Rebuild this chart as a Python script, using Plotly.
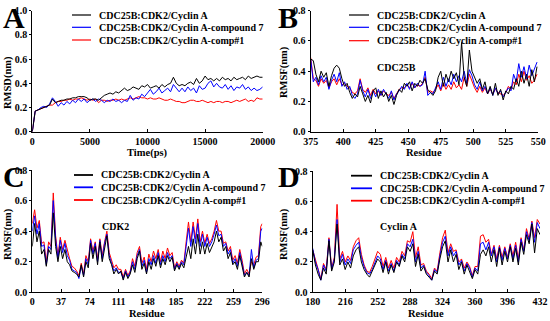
import plotly.graph_objects as go

W, H = 550, 321

# ---------------- Data ----------------
# Panel A: RMSD vs time (ps)
time_ps = list(range(0, 20001, 250))
rmsd_apo = [0.00, 0.17, 0.18, 0.19, 0.20, 0.21, 0.22, 0.27, 0.24, 0.25,
            0.26, 0.26, 0.27, 0.27, 0.28, 0.28, 0.29, 0.29, 0.29, 0.28,
            0.26, 0.27, 0.27, 0.26, 0.28, 0.30, 0.31, 0.32, 0.31, 0.33,
            0.32, 0.34, 0.36, 0.34, 0.35, 0.37, 0.36, 0.35, 0.38, 0.37,
            0.39, 0.36, 0.37, 0.38, 0.36, 0.39, 0.37, 0.39, 0.40, 0.45,
            0.40, 0.38, 0.39, 0.38, 0.40, 0.41, 0.39, 0.44, 0.40, 0.42,
            0.46, 0.43, 0.44, 0.42, 0.44, 0.42, 0.45, 0.43, 0.44, 0.42,
            0.45, 0.43, 0.44, 0.45, 0.43, 0.46, 0.44, 0.45, 0.46, 0.45,
            0.45]
rmsd_cpd7 = [0.00, 0.17, 0.18, 0.20, 0.21, 0.20, 0.23, 0.28, 0.25, 0.21,
             0.24, 0.22, 0.25, 0.23, 0.26, 0.24, 0.27, 0.25, 0.27, 0.24,
             0.26, 0.27, 0.25, 0.27, 0.26, 0.24, 0.26, 0.25, 0.27, 0.25,
             0.26, 0.24, 0.26, 0.25, 0.30, 0.26, 0.28, 0.27, 0.31, 0.29,
             0.32, 0.35, 0.31, 0.33, 0.36, 0.32, 0.34, 0.36, 0.33, 0.39,
             0.36, 0.33, 0.36, 0.33, 0.37, 0.34, 0.36, 0.32, 0.38, 0.35,
             0.36, 0.40, 0.42, 0.37, 0.40, 0.37, 0.36, 0.39, 0.35, 0.38,
             0.34, 0.37, 0.36, 0.39, 0.35, 0.37, 0.34, 0.36, 0.34, 0.35,
             0.37]
rmsd_comp1 = [0.00, 0.17, 0.18, 0.19, 0.20, 0.21, 0.22, 0.22, 0.24, 0.25,
              0.25, 0.26, 0.26, 0.27, 0.26, 0.27, 0.27, 0.28, 0.27, 0.26,
              0.27, 0.26, 0.27, 0.24, 0.26, 0.26, 0.25, 0.26, 0.26, 0.27,
              0.26, 0.27, 0.26, 0.27, 0.28, 0.27, 0.28, 0.29, 0.28, 0.28,
              0.27, 0.28, 0.27, 0.27, 0.28, 0.27, 0.26, 0.26, 0.27, 0.26,
              0.25, 0.25, 0.24, 0.24, 0.25, 0.26, 0.26, 0.25, 0.25, 0.26,
              0.25, 0.24, 0.25, 0.24, 0.25, 0.25, 0.24, 0.25, 0.25, 0.24,
              0.25, 0.26, 0.25, 0.26, 0.27, 0.25, 0.26, 0.25, 0.28, 0.27,
              0.27]

# Panel B: RMSF of CDC25B residues
res_b = list(range(375, 550, 2))
rmsf_b_apo = [0.48, 0.47, 0.38, 0.33, 0.40, 0.36, 0.39, 0.30, 0.37, 0.42,
              0.44, 0.42, 0.35, 0.30, 0.32, 0.26, 0.22, 0.25, 0.23, 0.30,
              0.25, 0.20, 0.24, 0.19, 0.27, 0.29, 0.22, 0.27, 0.23, 0.26,
              0.20, 0.24, 0.18, 0.24, 0.28, 0.26, 0.32, 0.30, 0.33, 0.27,
              0.32, 0.30, 0.34, 0.32, 0.35, 0.28, 0.26, 0.24, 0.27, 0.36,
              0.40, 0.30, 0.38, 0.33, 0.40, 0.35, 0.39, 0.31, 0.59, 0.36,
              0.30, 0.54, 0.40, 0.36, 0.32, 0.35, 0.28, 0.33, 0.25, 0.30,
              0.24, 0.32, 0.24, 0.28, 0.21, 0.27, 0.25, 0.30, 0.28, 0.35,
              0.30, 0.40, 0.32, 0.38, 0.30, 0.41, 0.33, 0.43]
rmsf_b_cpd7 = [0.48, 0.33, 0.36, 0.31, 0.37, 0.33, 0.36, 0.28, 0.34, 0.38,
               0.33, 0.39, 0.30, 0.33, 0.28, 0.30, 0.24, 0.22, 0.25, 0.34,
               0.27, 0.23, 0.28, 0.22, 0.27, 0.23, 0.28, 0.24, 0.28, 0.25,
               0.22, 0.27, 0.21, 0.25, 0.27, 0.30, 0.28, 0.32, 0.28, 0.33,
               0.29, 0.32, 0.30, 0.31, 0.40, 0.24, 0.26, 0.25, 0.29, 0.33,
               0.28, 0.36, 0.30, 0.35, 0.31, 0.38, 0.33, 0.37, 0.33, 0.40,
               0.32, 0.41, 0.37, 0.31, 0.28, 0.33, 0.27, 0.30, 0.25, 0.29,
               0.24, 0.29, 0.25, 0.27, 0.23, 0.26, 0.29, 0.27, 0.38, 0.33,
               0.45, 0.36, 0.43, 0.35, 0.44, 0.37, 0.42, 0.46]
rmsf_b_comp1 = [0.49, 0.35, 0.34, 0.30, 0.35, 0.32, 0.34, 0.29, 0.33, 0.35,
                0.31, 0.35, 0.31, 0.32, 0.30, 0.29, 0.26, 0.25, 0.27, 0.35,
                0.28, 0.26, 0.29, 0.24, 0.28, 0.25, 0.27, 0.24, 0.27, 0.25,
                0.24, 0.26, 0.22, 0.25, 0.28, 0.29, 0.29, 0.31, 0.29, 0.32,
                0.29, 0.31, 0.30, 0.32, 0.36, 0.26, 0.27, 0.26, 0.28, 0.31,
                0.27, 0.32, 0.28, 0.31, 0.28, 0.33, 0.29, 0.31, 0.28, 0.36,
                0.30, 0.38, 0.33, 0.29, 0.26, 0.30, 0.26, 0.29, 0.25, 0.28,
                0.25, 0.28, 0.26, 0.25, 0.24, 0.26, 0.30, 0.28, 0.33, 0.31,
                0.38, 0.33, 0.40, 0.34, 0.37, 0.32, 0.34, 0.38]

# Panel C: RMSF of CDK2 residues
res_c = list(range(0, 295, 3)) + [296]
rmsf_c_apo = [0.30, 0.45, 0.33, 0.40, 0.25, 0.28, 0.17, 0.28, 0.25, 0.52,
              0.30, 0.20, 0.30, 0.22, 0.28, 0.20, 0.18, 0.14, 0.13, 0.12,
              0.10, 0.18, 0.10, 0.20, 0.16, 0.32, 0.22, 0.30, 0.18, 0.33,
              0.20, 0.30, 0.37, 0.22, 0.18, 0.12, 0.15, 0.12, 0.14, 0.08,
              0.13, 0.09, 0.12, 0.18, 0.13, 0.22, 0.27, 0.15, 0.19, 0.12,
              0.20, 0.15, 0.22, 0.17, 0.24, 0.16, 0.22, 0.18, 0.24, 0.20,
              0.23, 0.14, 0.18, 0.15, 0.19, 0.16, 0.23, 0.30, 0.22, 0.35,
              0.25, 0.38, 0.25, 0.33, 0.25, 0.32, 0.26, 0.30, 0.33, 0.40,
              0.33, 0.36, 0.27, 0.30, 0.22, 0.26, 0.18, 0.20, 0.15, 0.24,
              0.17, 0.10, 0.13, 0.10, 0.22, 0.15, 0.20, 0.20, 0.33, 0.30]
rmsf_c_cpd7 = [0.40, 0.50, 0.38, 0.45, 0.30, 0.31, 0.18, 0.30, 0.28, 0.60,
               0.35, 0.22, 0.34, 0.26, 0.32, 0.24, 0.21, 0.15, 0.14, 0.13,
               0.09, 0.17, 0.11, 0.22, 0.18, 0.34, 0.25, 0.32, 0.20, 0.34,
               0.22, 0.32, 0.38, 0.24, 0.19, 0.14, 0.16, 0.13, 0.13, 0.09,
               0.14, 0.10, 0.13, 0.20, 0.15, 0.24, 0.28, 0.17, 0.21, 0.13,
               0.22, 0.18, 0.24, 0.19, 0.26, 0.18, 0.24, 0.20, 0.26, 0.22,
               0.24, 0.15, 0.19, 0.16, 0.20, 0.18, 0.30, 0.42, 0.30, 0.43,
               0.32, 0.45, 0.30, 0.38, 0.30, 0.36, 0.30, 0.33, 0.38, 0.44,
               0.37, 0.38, 0.30, 0.32, 0.25, 0.28, 0.19, 0.22, 0.17, 0.26,
               0.19, 0.11, 0.13, 0.11, 0.28, 0.16, 0.21, 0.22, 0.40, 0.42]
rmsf_c_comp1 = [0.45, 0.54, 0.42, 0.47, 0.32, 0.33, 0.20, 0.33, 0.30, 0.65,
                0.37, 0.24, 0.36, 0.28, 0.34, 0.27, 0.22, 0.17, 0.16, 0.14,
                0.11, 0.19, 0.12, 0.24, 0.20, 0.35, 0.27, 0.33, 0.22, 0.35,
                0.24, 0.33, 0.40, 0.26, 0.21, 0.16, 0.18, 0.15, 0.15, 0.10,
                0.15, 0.11, 0.14, 0.22, 0.17, 0.26, 0.30, 0.19, 0.23, 0.15,
                0.25, 0.20, 0.27, 0.22, 0.28, 0.20, 0.27, 0.22, 0.29, 0.24,
                0.26, 0.16, 0.20, 0.17, 0.21, 0.19, 0.33, 0.46, 0.33, 0.46,
                0.35, 0.48, 0.33, 0.40, 0.32, 0.38, 0.32, 0.35, 0.40, 0.47,
                0.40, 0.40, 0.32, 0.33, 0.27, 0.30, 0.21, 0.24, 0.19, 0.28,
                0.21, 0.12, 0.15, 0.12, 0.20, 0.18, 0.23, 0.24, 0.43, 0.45]

# Panel D: RMSF of Cyclin A residues
res_d = list(range(180, 433, 3))
rmsf_d_apo = [0.28, 0.18, 0.12, 0.08, 0.16, 0.12, 0.34, 0.14, 0.20, 0.45,
              0.18, 0.22, 0.15, 0.20, 0.16, 0.24, 0.28, 0.30, 0.20, 0.15,
              0.12, 0.10, 0.14, 0.18, 0.22, 0.20, 0.13, 0.20, 0.12, 0.18,
              0.13, 0.20, 0.17, 0.24, 0.20, 0.30, 0.27, 0.32, 0.17, 0.25,
              0.14, 0.17, 0.12, 0.10, 0.08, 0.14, 0.12, 0.22, 0.30, 0.34,
              0.20, 0.28, 0.20, 0.25, 0.15, 0.20, 0.12, 0.18, 0.14, 0.09,
              0.15, 0.12, 0.25, 0.28, 0.24, 0.30, 0.20, 0.28, 0.17, 0.29,
              0.18, 0.27, 0.20, 0.30, 0.20, 0.29, 0.18, 0.33, 0.25, 0.38,
              0.32, 0.45, 0.26, 0.42, 0.38]
rmsf_d_cpd7 = [0.29, 0.20, 0.15, 0.08, 0.18, 0.14, 0.35, 0.15, 0.22, 0.48,
               0.20, 0.25, 0.18, 0.22, 0.19, 0.28, 0.31, 0.33, 0.23, 0.17,
               0.13, 0.12, 0.15, 0.20, 0.24, 0.22, 0.15, 0.21, 0.14, 0.19,
               0.14, 0.21, 0.18, 0.25, 0.22, 0.32, 0.30, 0.35, 0.20, 0.27,
               0.16, 0.18, 0.13, 0.11, 0.08, 0.15, 0.13, 0.24, 0.33, 0.37,
               0.24, 0.30, 0.24, 0.27, 0.18, 0.21, 0.14, 0.19, 0.16, 0.10,
               0.16, 0.14, 0.32, 0.33, 0.28, 0.33, 0.24, 0.30, 0.20, 0.30,
               0.21, 0.29, 0.22, 0.31, 0.22, 0.31, 0.20, 0.35, 0.27, 0.40,
               0.34, 0.46, 0.33, 0.46, 0.42]
rmsf_d_comp1 = [0.28, 0.21, 0.16, 0.09, 0.19, 0.15, 0.36, 0.16, 0.23, 0.58,
                0.22, 0.27, 0.20, 0.24, 0.21, 0.30, 0.34, 0.36, 0.25, 0.18,
                0.14, 0.13, 0.17, 0.22, 0.27, 0.25, 0.17, 0.23, 0.16, 0.21,
                0.16, 0.23, 0.20, 0.27, 0.24, 0.34, 0.33, 0.40, 0.23, 0.30,
                0.18, 0.19, 0.14, 0.12, 0.09, 0.16, 0.14, 0.26, 0.36, 0.41,
                0.26, 0.32, 0.27, 0.28, 0.20, 0.22, 0.16, 0.20, 0.17, 0.11,
                0.17, 0.17, 0.37, 0.38, 0.33, 0.35, 0.25, 0.31, 0.22, 0.31,
                0.23, 0.30, 0.23, 0.32, 0.24, 0.33, 0.22, 0.36, 0.28, 0.42,
                0.35, 0.47, 0.36, 0.48, 0.45]

series_names = ["CDC25B:CDK2/Cyclin A",
                "CDC25B:CDK2/Cyclin A-compound 7",
                "CDC25B:CDK2/Cyclin A-comp#1"]
series_colors = ["#000000", "#0000FF", "#FF0000"]

ticks_a_x = [0, 5000, 10000, 15000, 20000]
ticks_b_x = [375, 400, 425, 450, 475, 500, 525, 550]
ticks_c_x = [0, 37, 74, 111, 148, 185, 222, 259, 296]
ticks_d_x = [180, 216, 252, 288, 324, 360, 396, 432]
ticks_rmsd_y = [0.0, 0.2, 0.4, 0.6, 0.8, 1.0]
ticks_rmsf_y = [0.0, 0.2, 0.4, 0.6, 0.8]

# ---------------- Figure ----------------
FONT = "Liberation Serif, Times New Roman, serif"


def X(px):
    return px / W


def Y(py):
    return 1 - py / H


panels = [
    dict(xp=(32.3, 262.7), yp=(10.7, 131.7), xr=[0, 20000], yr=[0, 1.0],
         yt=ticks_rmsd_y, xt=ticks_a_x,
         x=time_ps, ys=[rmsd_apo, rmsd_cpd7, rmsd_comp1]),
    dict(xp=(310.7, 538.3), yp=(10.7, 131.7), xr=[375, 550], yr=[0, 0.8],
         yt=ticks_rmsf_y, xt=ticks_b_x,
         x=res_b, ys=[rmsf_b_apo, rmsf_b_cpd7, rmsf_b_comp1]),
    dict(xp=(32.3, 262.3), yp=(170, 292.3), xr=[0, 296], yr=[0, 0.8],
         yt=ticks_rmsf_y, xt=ticks_c_x,
         x=res_c, ys=[rmsf_c_apo, rmsf_c_cpd7, rmsf_c_comp1]),
    dict(xp=(312.7, 540), yp=(171, 292.3), xr=[180, 432], yr=[0, 0.8],
         yt=ticks_rmsf_y, xt=ticks_d_x,
         x=res_d, ys=[rmsf_d_apo, rmsf_d_cpd7, rmsf_d_comp1]),
]

fig = go.Figure()
layout = dict(width=W, height=H, margin=dict(l=0, r=0, t=0, b=0, autoexpand=False),
              paper_bgcolor="white", plot_bgcolor="white",
              showlegend=False, font=dict(family=FONT, color="black"))

tickfont = dict(family=FONT, size=10, color="black", weight="bold")

for i, p in enumerate(panels):
    n = "" if i == 0 else str(i + 1)
    xa, ya = "x" + n, "y" + n
    for k in [2, 1, 0]:
        fig.add_trace(go.Scatter(x=p["x"], y=p["ys"][k], mode="lines",
                                 line=dict(color=series_colors[k], width=1),
                                 name=series_names[k], xaxis=xa, yaxis=ya,
                                 showlegend=False))
    layout["xaxis" + n] = dict(domain=[X(p["xp"][0]), X(p["xp"][1])],
                               range=p["xr"], anchor=ya, tickvals=p["xt"],
                               ticktext=[str(v) for v in p["xt"]],
                               showgrid=False, zeroline=False, showline=True,
                               linecolor="black", linewidth=1.3,
                               ticks="inside", ticklen=3, tickwidth=1,
                               tickcolor="black", tickfont=tickfont,
                               automargin=False)
    layout["yaxis" + n] = dict(domain=[Y(p["yp"][1]), Y(p["yp"][0])],
                               range=p["yr"], anchor=xa, tickvals=p["yt"],
                               ticktext=["%.1f" % v for v in p["yt"]],
                               showgrid=False, zeroline=False, showline=True,
                               linecolor="black", linewidth=1.3,
                               ticks="outside", ticklen=2, tickwidth=1,
                               tickcolor="black", tickfont=tickfont,
                               automargin=False)

fig.update_layout(**layout)

annotations = []
shapes = []


def txt(x, y, s, size=10, xanchor="left", yanchor="middle", angle=0):
    annotations.append(dict(x=X(x), y=Y(y), xref="paper", yref="paper",
                            text=s, showarrow=False, xanchor=xanchor,
                            yanchor=yanchor, textangle=angle,
                            font=dict(family=FONT, size=size, color="black",
                                      weight="bold")))


# panel letters
txt(1, 17, "A", size=30)
txt(276, 17, "B", size=30)
txt(1, 177, "C", size=30)
txt(276, 177, "D", size=30)

# axis titles
txt(147, 153, "Time(ps)", size=10.5, xanchor="center")
txt(424, 153, "Residue", size=10.5, xanchor="center")
txt(147, 313, "Residue", size=10.5, xanchor="center")
txt(426, 313, "Residue", size=10.5, xanchor="center")
txt(8, 83, "RMSD(nm)", size=10.5, xanchor="center", angle=-90)
txt(284, 72, "RMSF(nm)", size=10.5, xanchor="center", angle=-90)
txt(8, 234, "RMSF(nm)", size=10.5, xanchor="center", angle=-90)
txt(284, 234, "RMSF(nm)", size=10.5, xanchor="center", angle=-90)

# inner labels
txt(375, 67, "CDC25B", size=10)
txt(100, 226, "CDK2", size=10)
txt(378, 226, "Cyclin A", size=10)

# legends
legends = [
    dict(x0=72, x1=91, tx=97, rows=[15, 27.3, 40], w=1.2),
    dict(x0=349, x1=369, tx=375, rows=[15, 27.3, 40.7], w=1.2),
    dict(x0=74, x1=93, tx=99, rows=[175, 187.3, 200], w=1.8),
    dict(x0=351, x1=372, tx=378, rows=[175.7, 188.3, 200.7], w=1.8),
]
for lg in legends:
    for k in range(3):
        ry = lg["rows"][k]
        shapes.append(dict(type="line", xref="paper", yref="paper",
                           x0=X(lg["x0"]), x1=X(lg["x1"]), y0=Y(ry), y1=Y(ry),
                           line=dict(color=series_colors[k], width=lg["w"])))
        txt(lg["tx"], ry, series_names[k], size=10)

fig.update_layout(annotations=annotations, shapes=shapes)
fig.write_html("out.html",
               config={"displayModeBar": False},
               post_script="document.body.style.margin='0px';"
                           "document.body.style.overflow='hidden';")
